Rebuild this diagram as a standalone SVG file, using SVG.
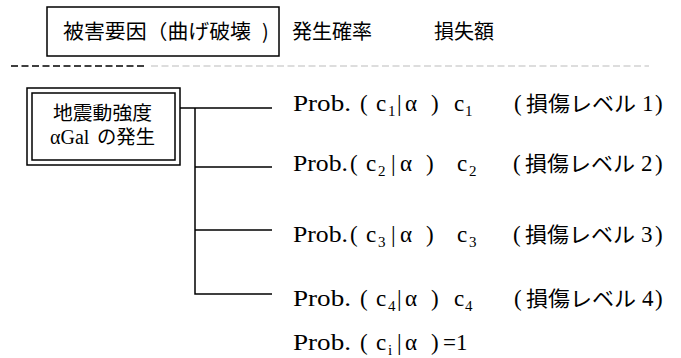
<svg xmlns="http://www.w3.org/2000/svg" width="681" height="358" viewBox="0 0 681 358">
<style>
.g{font-family:"Noto Sans CJK JP","Noto Sans",sans-serif;fill:#000}
.box{fill:#fff;stroke:#000;stroke-width:1.5}
.ln{stroke:#000;stroke-width:1.5;fill:none}
.r{font-size:23px}
.sub{font-size:15px}
</style>
<rect width="681" height="358" fill="#fff"/>
<g id="header">
<rect class="box" x="47" y="7" width="232" height="49"/>
<text class="g" x="63" y="39" font-size="20" textLength="188" lengthAdjust="spacingAndGlyphs">被害要因（曲げ破壊</text>
<text class="g" x="262" y="39" font-size="20">)</text>
<text class="g" x="292" y="39" font-size="20">発生確率</text>
<text class="g" x="434" y="39" font-size="20">損失額</text>
<line x1="11" y1="66" x2="147" y2="66" stroke="#000" stroke-width="1.4" stroke-dasharray="7 3.5"/>
<line x1="151" y1="66" x2="649" y2="66" stroke="#bbb" stroke-width="1.2" stroke-dasharray="7 3.5"/>
</g>
<g id="source">
<rect class="box" x="27" y="88" width="153" height="77"/>
<rect class="box" x="32" y="93" width="143" height="67" stroke-width="1.2"/>
<text class="g" x="53" y="120" font-size="19" textLength="99" lengthAdjust="spacingAndGlyphs">地震動強度</text>
<text x="50" y="144" font-size="20" font-family="Liberation Serif, DejaVu Serif, serif">αGal</text>
<text class="g" x="97" y="144" font-size="19" textLength="58" lengthAdjust="spacingAndGlyphs">の発生</text>
</g>
<g id="connectors">
<path class="ln" d="M180 108H272M195 108V294H272M195 167H272M195 230H272"/>
</g>
<g id="level1" class="r" font-family="Liberation Serif, DejaVu Serif, serif">
<text x="293" y="111" textLength="58" lengthAdjust="spacingAndGlyphs">Prob.</text>
<text x="360" y="111">(</text>
<text x="376" y="111">c</text><text class="sub" x="388" y="116">1</text>
<text x="397" y="111">|</text>
<text x="405" y="111">α</text>
<text x="431" y="111">)</text>
<text x="454" y="111">c</text><text class="sub" x="465" y="116">1</text>
<text x="514" y="111">(</text>
<text class="g" x="526" y="111" font-size="21" textLength="110" lengthAdjust="spacingAndGlyphs">損傷レベル</text>
<text x="642" y="111">1</text>
<text x="655" y="111">)</text>
</g>
<g id="level2" class="r" font-family="Liberation Serif, DejaVu Serif, serif">
<text x="293" y="171" textLength="55" lengthAdjust="spacingAndGlyphs">Prob.</text>
<text x="350" y="171">(</text>
<text x="366" y="171">c</text><text class="sub" x="378" y="176">2</text>
<text x="391" y="171">|</text>
<text x="400" y="171">α</text>
<text x="426" y="171">)</text>
<text x="457" y="171">c</text><text class="sub" x="469" y="176">2</text>
<text x="513" y="171">(</text>
<text class="g" x="525" y="171" font-size="21" textLength="110" lengthAdjust="spacingAndGlyphs">損傷レベル</text>
<text x="641" y="171">2</text>
<text x="655" y="171">)</text>
</g>
<g id="level3" class="r" font-family="Liberation Serif, DejaVu Serif, serif">
<text x="293" y="242" textLength="55" lengthAdjust="spacingAndGlyphs">Prob.</text>
<text x="350" y="242">(</text>
<text x="366" y="242">c</text><text class="sub" x="378" y="247">3</text>
<text x="391" y="242">|</text>
<text x="400" y="242">α</text>
<text x="426" y="242">)</text>
<text x="457" y="242">c</text><text class="sub" x="469" y="247">3</text>
<text x="513" y="242">(</text>
<text class="g" x="525" y="242" font-size="21" textLength="110" lengthAdjust="spacingAndGlyphs">損傷レベル</text>
<text x="641" y="242">3</text>
<text x="655" y="242">)</text>
</g>
<g id="level4" class="r" font-family="Liberation Serif, DejaVu Serif, serif">
<text x="293" y="306" textLength="58" lengthAdjust="spacingAndGlyphs">Prob.</text>
<text x="360" y="306">(</text>
<text x="376" y="306">c</text><text class="sub" x="388" y="311">4</text>
<text x="397" y="306">|</text>
<text x="405" y="306">α</text>
<text x="431" y="306">)</text>
<text x="454" y="306">c</text><text class="sub" x="465" y="311">4</text>
<text x="514" y="306">(</text>
<text class="g" x="526" y="306" font-size="21" textLength="110" lengthAdjust="spacingAndGlyphs">損傷レベル</text>
<text x="642" y="306">4</text>
<text x="655" y="306">)</text>
</g>
<g id="sum" class="r" font-family="Liberation Serif, DejaVu Serif, serif">
<text x="293" y="350" textLength="58" lengthAdjust="spacingAndGlyphs">Prob.</text>
<text x="360" y="350">(</text>
<text x="376" y="350">c</text><text class="sub" x="388" y="355">i</text>
<text x="397" y="350">|</text>
<text x="405" y="350">α</text>
<text x="431" y="350">)</text>
<text x="443" y="350">=1</text>
</g>
</svg>
